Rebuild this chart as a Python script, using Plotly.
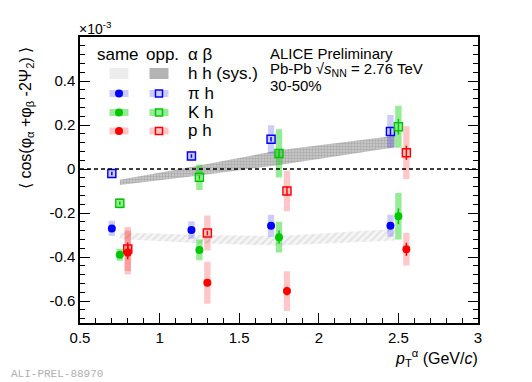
import plotly.graph_objects as go

# ---------------- data (values in units of 1e-3) ----------------
pt_pi = [0.70, 1.20, 1.70, 2.45]
pt_k = [0.75, 1.25, 1.75, 2.50]
pt_p = [0.80, 1.30, 1.80, 2.55]

pi_same = [-0.270, -0.277, -0.258, -0.258]
pi_same_stat = [0.010, 0.010, 0.010, 0.015]
pi_same_sys = [0.035, 0.040, 0.050, 0.050]
pi_opp = [-0.020, 0.059, 0.135, 0.170]
pi_opp_stat = [0.008, 0.008, 0.010, 0.015]
pi_opp_sys = [0.020, 0.023, 0.064, 0.076]

k_same = [-0.390, -0.368, -0.310, -0.215]
k_same_stat = [0.010, 0.012, 0.030, 0.036]
k_same_sys = [0.027, 0.047, 0.070, 0.106]
k_opp = [-0.156, -0.038, 0.071, 0.192]
k_opp_stat = [0.008, 0.010, 0.020, 0.036]
k_opp_sys = [0.023, 0.058, 0.110, 0.095]

p_same = [-0.380, -0.517, -0.555, -0.365]
p_same_stat = [0.030, 0.012, 0.020, 0.030]
p_same_sys = [0.100, 0.095, 0.090, 0.074]
p_opp = [-0.364, -0.291, -0.100, 0.074]
p_opp_stat = [0.030, 0.010, 0.020, 0.032]
p_opp_sys = [0.100, 0.080, 0.092, 0.120]

# h h systematic bands
band_pt = [0.75, 1.25, 1.75, 2.48]
hh_same_hi = [-0.287, -0.300, -0.305, -0.273]
hh_same_lo = [-0.318, -0.338, -0.348, -0.325]
hh_opp_hi = [-0.049, 0.016, 0.085, 0.151]
hh_opp_lo = [-0.073, -0.030, 0.018, 0.099]

x_ticks = [0.5, 1, 1.5, 2, 2.5, 3]
x_ticktext = ["0.5", "1", "1.5", "2", "2.5", "3"]
y_ticks = [-0.6, -0.4, -0.2, 0, 0.2, 0.4]
y_ticktext = ["-0.6", "-0.4", "-0.2", "0", "0.2", "0.4"]

BOX_HW = 0.02
FONT = "Liberation Sans, Arial, sans-serif"

BLUE = "rgb(0,0,255)"
GREEN = "rgb(0,200,0)"
RED = "rgb(255,0,0)"
BLUE_BOX = "rgba(0,0,255,0.2)"
GREEN_BOX = "rgba(0,210,0,0.42)"
RED_BOX = "rgba(255,0,0,0.22)"

fig = go.Figure()

# bands
def band(xs, hi, lo, pattern, bg):
    fig.add_trace(go.Scatter(
        x=xs + xs[::-1], y=hi + lo[::-1], mode="lines", fill="toself",
        line=dict(width=0), fillcolor=bg, fillpattern=pattern,
        showlegend=False, hoverinfo="skip"))

band(band_pt, hh_same_hi, hh_same_lo,
     dict(shape="/", fgcolor="#cfcfcf", bgcolor="#f5f5f5", size=5, solidity=0.35), "#f0f0f0")
band(band_pt, hh_opp_hi, hh_opp_lo,
     dict(shape="+", fgcolor="#8f8f8f", bgcolor="#c4c4c4", size=3, solidity=0.35), "#b0b0b0")

# systematic boxes
def boxes(xs, ys, sys, color):
    px, py = [], []
    for x, y, s in zip(xs, ys, sys):
        px += [x - BOX_HW, x + BOX_HW, x + BOX_HW, x - BOX_HW, x - BOX_HW, None]
        py += [y - s, y - s, y + s, y + s, y - s, None]
    fig.add_trace(go.Scatter(x=px, y=py, mode="lines", fill="toself",
                             line=dict(width=0), fillcolor=color,
                             showlegend=False, hoverinfo="skip"))

boxes(pt_pi, pi_same, pi_same_sys, BLUE_BOX)
boxes(pt_pi, pi_opp, pi_opp_sys, BLUE_BOX)
boxes(pt_k, k_same, k_same_sys, GREEN_BOX)
boxes(pt_k, k_opp, k_opp_sys, GREEN_BOX)
boxes(pt_p, p_same, p_same_sys, RED_BOX)
boxes(pt_p, p_opp, p_opp_sys, RED_BOX)

# points
def points(xs, ys, stat, color, filled):
    fig.add_trace(go.Scatter(
        x=xs, y=ys, mode="markers",
        marker=dict(symbol="circle" if filled else "square-open",
                    size=8, color=color,
                    line=dict(width=0 if filled else 1.5, color=color)),
        error_y=dict(type="data", array=stat, color=color, thickness=1.5, width=0),
        showlegend=False))

points(pt_pi, pi_same, pi_same_stat, BLUE, True)
points(pt_pi, pi_opp, pi_opp_stat, BLUE, False)
points(pt_k, k_same, k_same_stat, GREEN, True)
points(pt_k, k_opp, k_opp_stat, GREEN, False)
points(pt_p, p_same, p_same_stat, RED, True)
points(pt_p, p_opp, p_opp_stat, RED, False)

# ---------------- layout ----------------
OFF = 8  # page body margin offset
W, H = 524, 374
# plot frame in page pixels: left 80, right 478, top 37, bottom 323
L, R, T, B = 80 - OFF, W - (478 - OFF), 37 - OFF, H - (323 - OFF)
PW, PH = W - L - R, H - T - B

def px2x(px):  # page pixel -> paper
    return (px - OFF - L) / PW

def px2y(py):
    return (H - B - (py - OFF)) / PH

shapes = []
annotations = []

# zero line
shapes.append(dict(type="line", xref="paper", yref="y", x0=0, x1=1, y0=0, y1=0,
                   line=dict(color="black", width=1.3, dash="4px,3px")))

# legend keys
col_same, col_opp = 119, 159
rows = [73.5, 93.5, 112.5, 131]

def rect_key(cx, cy, w, h, fill, line=None):
    shapes.append(dict(type="rect", xref="paper", yref="paper",
                       xsizemode="pixel", ysizemode="pixel",
                       xanchor=px2x(cx), yanchor=px2y(cy),
                       x0=-w / 2, x1=w / 2, y0=-h / 2, y1=h / 2,
                       fillcolor=fill, line=line or dict(width=0)))

def circ_key(cx, cy, d, color):
    shapes.append(dict(type="circle", xref="paper", yref="paper",
                       xsizemode="pixel", ysizemode="pixel",
                       xanchor=px2x(cx), yanchor=px2y(cy),
                       x0=-d / 2, x1=d / 2, y0=-d / 2, y1=d / 2,
                       fillcolor=color, line=dict(width=0)))

rect_key(col_same, rows[0], 19, 11, "#ececec")
rect_key(col_opp, rows[0], 19, 11, "#b4b4b4")
for r, c, cb in zip(rows[1:], [BLUE, GREEN, RED], [BLUE_BOX, GREEN_BOX, RED_BOX]):
    rect_key(col_same, r, 19, 7, cb)
    rect_key(col_opp, r, 19, 7, cb)
    circ_key(col_same, r, 8, c)
    rect_key(col_opp, r, 7, 7, "rgba(0,0,0,0)", dict(color=c, width=1.5))

def text(px, py, s, size=17, xanchor="left", color="black", family=FONT, yanchor="middle"):
    annotations.append(dict(x=px2x(px), y=px2y(py), xref="paper", yref="paper",
                            text=s, showarrow=False, xanchor=xanchor, yanchor=yanchor,
                            font=dict(size=size, color=color, family=family)))

text(95, 55, "same")
text(144, 55, "opp.")
text(186, 55, "α β")
text(186, 73.5, "h h (sys.)")
text(186, 93.5, "π h")
text(186, 112.5, "K h")
text(186, 131, "p h")

text(268, 53, "ALICE Preliminary", size=15)
text(268, 69, "Pb-Pb √<i>s</i><sub>NN</sub> = 2.76 TeV", size=15)
text(268, 85, "30-50%", size=15)

text(77, 28, "×10<sup>-3</sup>", size=14)
text(9, 374, "ALI-PREL-88970", size=11, color="#b0b0b0", family="Liberation Mono, monospace")

# axis titles
text(480, 358, "<i>p</i><sub>T</sub><sup>α</sup> (GeV/<i>c</i>)", size=16, xanchor="right")
annotations.append(dict(x=px2x(26), y=px2y(118), xref="paper", yref="paper",
                        text="⟨ cos(φ<sub>α</sub> +φ<sub>β</sub> -2Ψ<sub>2</sub>) ⟩",
                        textangle=-90, showarrow=False, xanchor="center", yanchor="middle",
                        font=dict(size=16, family=FONT, color="black")))

fig.update_layout(
    width=W, height=H,
    margin=dict(l=L, r=R, t=T, b=B),
    paper_bgcolor="white", plot_bgcolor="white",
    showlegend=False,
    shapes=shapes, annotations=annotations,
    font=dict(family=FONT, size=15, color="black"),
    xaxis=dict(range=[0.5, 3], tickvals=x_ticks, ticktext=x_ticktext,
               ticks="inside", ticklen=10, tickwidth=1.3, tickcolor="black",
               showline=True, linecolor="black", linewidth=1.5, mirror=True,
               showgrid=False, zeroline=False,
               minor=dict(dtick=0.1, tick0=0.5, ticks="inside", ticklen=5,
                          tickwidth=1.2, tickcolor="black", showgrid=False),
               tickfont=dict(size=15, family=FONT)),
    yaxis=dict(range=[-0.7, 0.6], tickvals=y_ticks, ticktext=y_ticktext,
               ticks="inside", ticklen=10, tickwidth=1.3, tickcolor="black",
               showline=True, linecolor="black", linewidth=1.5, mirror="ticks",
               showgrid=False, zeroline=False,
               minor=dict(dtick=0.04, tick0=0, ticks="inside", ticklen=5,
                          tickwidth=1.2, tickcolor="black", showgrid=False),
               tickfont=dict(size=15, family=FONT)),
)

fig.write_html("out.html")
